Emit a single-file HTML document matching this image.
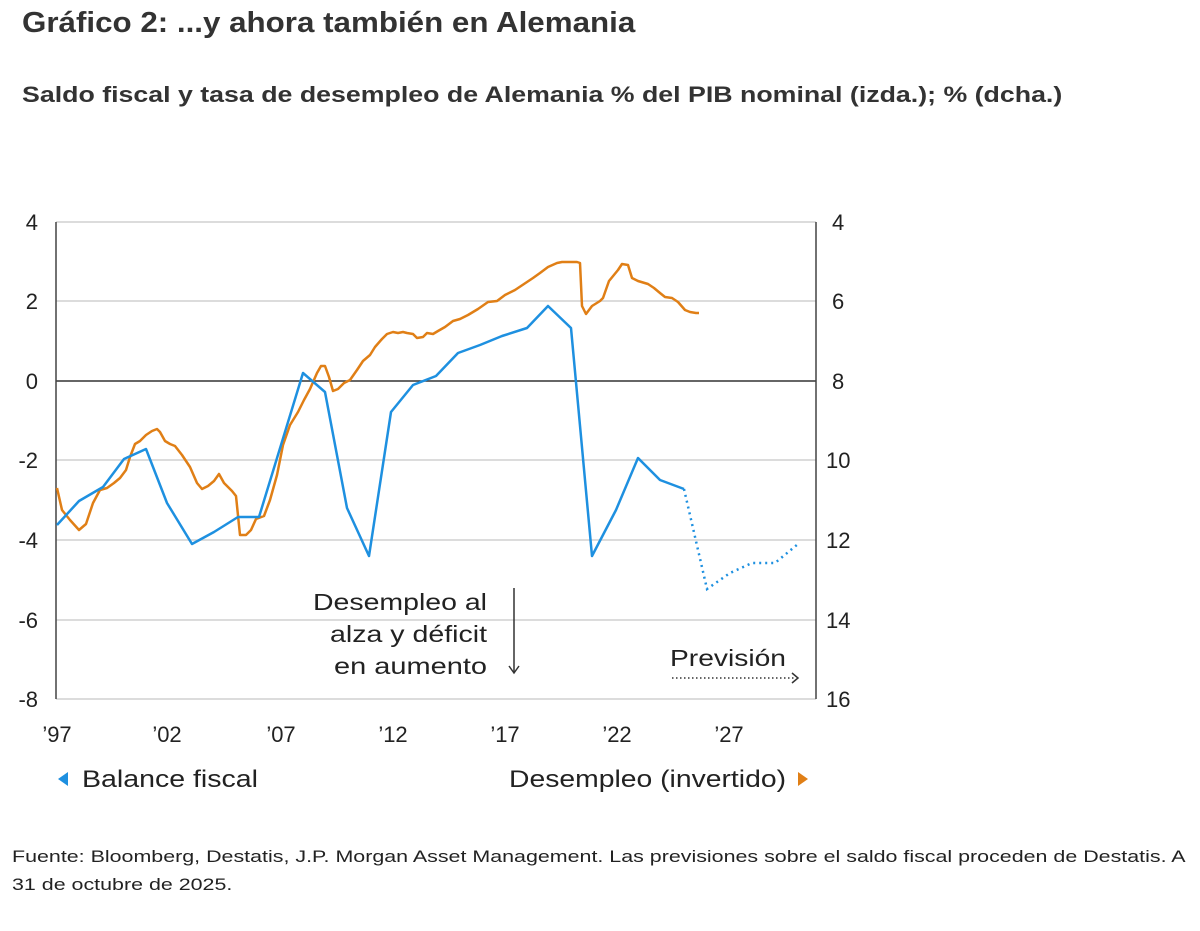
<!DOCTYPE html>
<html><head><meta charset="utf-8"><style>
body{margin:0;background:#fff;width:1200px;height:931px;overflow:hidden;font-family:"Liberation Sans",sans-serif;color:#222}
.t{position:absolute;left:22px;top:7px;font-size:29px;font-weight:bold;color:#333;transform:scaleX(1.08);transform-origin:0 0;white-space:nowrap}
.s{position:absolute;left:22px;top:82px;font-size:22px;font-weight:bold;color:#333;transform:scaleX(1.215);transform-origin:0 0;white-space:nowrap}
.f{position:absolute;left:12px;top:843px;font-size:17px;line-height:28px;color:#222;transform:scaleX(1.26);transform-origin:0 0;white-space:nowrap}
</style></head><body>
<div class="t">Gráfico 2: ...y ahora también en Alemania</div>
<div class="s">Saldo fiscal y tasa de desempleo de Alemania % del PIB nominal (izda.); % (dcha.)</div>
<svg style="position:absolute;left:0;top:0" width="1200" height="931" font-family="Liberation Sans, sans-serif">
<g stroke="#d0d0d0" stroke-width="1.5">
<line x1="56" x2="816" y1="222" y2="222"/><line x1="56" x2="816" y1="301" y2="301"/>
<line x1="56" x2="816" y1="460" y2="460"/><line x1="56" x2="816" y1="540" y2="540"/>
<line x1="56" x2="816" y1="620" y2="620"/><line x1="56" x2="816" y1="699" y2="699"/>
</g>
<line x1="56" x2="816" y1="381" y2="381" stroke="#333" stroke-width="1.5"/>
<line x1="56" x2="56" y1="222" y2="699" stroke="#444" stroke-width="1.5"/>
<line x1="816" x2="816" y1="222" y2="699" stroke="#444" stroke-width="1.5"/>
<g font-size="22" fill="#222" text-anchor="end">
<text x="38" y="230">4</text><text x="38" y="309">2</text><text x="38" y="389">0</text>
<text x="38" y="468">-2</text><text x="38" y="548">-4</text><text x="38" y="628">-6</text><text x="38" y="707">-8</text>
</g>
<g font-size="22" fill="#222">
<text x="832" y="230">4</text><text x="832" y="309">6</text><text x="832" y="389">8</text>
<text x="826" y="468">10</text><text x="826" y="548">12</text><text x="826" y="628">14</text><text x="826" y="707">16</text>
</g>
<g font-size="22" fill="#222" text-anchor="middle">
<text x="57" y="742">’97</text><text x="167" y="742">’02</text><text x="281" y="742">’07</text>
<text x="393" y="742">’12</text><text x="505" y="742">’17</text><text x="617" y="742">’22</text><text x="729" y="742">’27</text>
</g>
<polyline fill="none" stroke="#e07f16" stroke-width="2.5" stroke-linejoin="round" points="57,488 62,510 70,520 79,530 86,524 93,503 100,490 107,488 114,483 120,478 126,470 130,457 135,444 140,441 146,435 152,431 157,429 160,432 165,441 170,444 175,446 182,455 190,467 197,483 202,489 208,486 214,481 219,474 224,483 232,491 236,496 240,535 246,535 251,530 256,519 264,516 270,500 277,475 283,445 290,425 298,412 304,400 310,389 317,373 321,366 325,366 329,377 333,391 338,389 344,383 350,380 357,370 363,361 370,355 375,347 382,339 387,334 393,332 398,333 403,332 407,333 413,334 417,338 423,337 427,333 433,334 438,331 445,327 453,321 460,319 468,315 478,309 488,302 497,301 505,295 515,290 524,284 533,278 540,273 548,267 557,263 562,262 570,262 577,262 580,263 582,306 586,314 592,306 600,301 603,298 609,281 618,270 622,264 628,265 632,278 638,281 648,284 654,288 660,293 665,297 672,298 678,302 685,310 690,312 696,313 699,313"/>
<polyline fill="none" stroke="#1e90e0" stroke-width="2.5" stroke-linejoin="round" points="57,525 79,501 103,487 124,459 146,449 167,503 192,544 214,532 238,517 259,517 303,373 325,392 347,508 369,556 391,412 413,385 436,376 458,353 480,345 502,336 527,328 548,306 571,328 592,556 616,510 638,458 660,480 684,489"/>
<polyline fill="none" stroke="#1e90e0" stroke-width="2.5" stroke-dasharray="2,4" points="684,489 707,589 730,573 752,563 775,563 798,544"/>
<g font-size="23" fill="#222">
<text x="313" y="610" textLength="174" lengthAdjust="spacingAndGlyphs">Desempleo al</text>
<text x="330" y="642" textLength="157" lengthAdjust="spacingAndGlyphs">alza y déficit</text>
<text x="334" y="674" textLength="153" lengthAdjust="spacingAndGlyphs">en aumento</text>
</g>
<line x1="514" x2="514" y1="588" y2="672" stroke="#333" stroke-width="1.5"/>
<path d="M509,666 L514,673 L519,666" fill="none" stroke="#333" stroke-width="1.5"/>
<text x="670" y="666" font-size="23" fill="#222" textLength="116" lengthAdjust="spacingAndGlyphs">Previsión</text>
<line x1="672" x2="796" y1="678" y2="678" stroke="#333" stroke-width="1.5" stroke-dasharray="1.5,2.5"/>
<path d="M792,673 L798,678 L792,683" fill="none" stroke="#333" stroke-width="1.5"/>
<path d="M68,772 L58,779 L68,786 Z" fill="#1e90e0"/>
<text x="82" y="787" font-size="24" fill="#222" textLength="176" lengthAdjust="spacingAndGlyphs">Balance fiscal</text>
<text x="509" y="787" font-size="24" fill="#222" textLength="277" lengthAdjust="spacingAndGlyphs">Desempleo (invertido)</text>
<path d="M798,772 L808,779 L798,786 Z" fill="#e07f16"/>
</svg>
<div class="f">Fuente: Bloomberg, Destatis, J.P. Morgan Asset Management. Las previsiones sobre el saldo fiscal proceden de Destatis. A<br>31 de octubre de 2025.</div>
</body></html>
